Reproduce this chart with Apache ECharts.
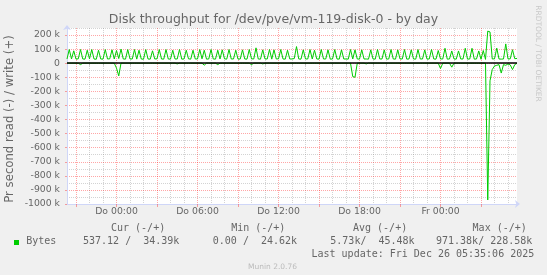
<!DOCTYPE html>
<html><head><meta charset="utf-8">
<script src="https://cdn.jsdelivr.net/npm/echarts@6/dist/echarts.min.js"></script>
<style>html,body{margin:0;padding:0;background:#f0f0f0}#c{width:547px;height:275px}</style>
</head><body><div id="c"></div>
<script>
// time axis in hours relative to Thu (Do) 00:00; samples every 10 minutes from Wed 20:20
const T0 = -11/3;
const STEP = 1/6;
const X_MIN = -11/3;
const X_MAX = 29 + 2/3;

// write (+) bytes/s, in k
const writeK = [
30,97,30,88,29,31,97,30,29,92,31,97,30,28,92,30,29,97,30,31,
95,30,90,33,100,30,29,97,30,30,97,29,92,30,28,97,30,29,88,30,
31,97,30,29,97,30,29,92,30,30,97,29,30,92,31,29,92,30,30,97,
31,92,29,30,97,30,29,92,30,95,31,29,97,30,30,92,29,30,95,30,
29,97,31,30,109,30,29,95,30,30,97,29,95,30,31,97,30,29,92,30,
30,33,118,30,29,95,30,30,97,30,92,30,29,97,30,30,95,29,30,97,
30,29,95,30,30,29,97,30,95,30,29,95,30,30,29,95,30,29,97,30,
30,95,29,30,97,30,29,95,30,30,97,29,30,95,30,29,97,30,30,95,
29,30,97,30,29,90,30,30,106,29,30,87,30,29,87,30,30,106,29,30,
106,29,30,87,28,90,27,228,222,30,31,107,30,29,30,137,30,31,96,32,
34
];
// read (-) bytes/s, in k
const readK = [
0,0,0,0,0,0,-10,0,0,0,0,0,0,0,0,0,0,0,0,0,
0,0,-35,-90,0,0,0,0,0,0,0,0,0,0,0,0,0,0,0,0,
0,0,0,0,0,0,0,0,0,-5,0,0,0,0,0,0,0,0,0,0,
0,-14,0,0,0,0,0,-10,0,0,0,0,0,0,0,0,0,0,0,0,
0,0,-10,0,0,0,0,-5,0,0,0,0,0,0,0,0,0,0,0,0,
0,0,0,0,0,0,0,0,0,0,0,0,0,0,0,0,0,0,0,0,
0,0,0,0,0,0,0,-95,-100,0,0,0,0,-5,0,0,0,0,0,0,
0,0,0,0,0,0,0,0,0,0,0,0,0,0,0,0,0,0,0,0,
0,0,0,0,0,0,-38,0,0,0,0,-28,0,0,0,0,0,0,0,0,
0,0,0,0,0,0,0,-971,-125,-45,-20,-15,-10,-70,-10,-15,-5,-12,-45,-10,
-1
];

const xMajorHours = [-3,0,3,6,9,12,15,18,21,24,27];
const xMinorHours = [-2,-1,1,2,4,5,7,8,10,11,13,14,16,17,19,20,22,23,25,26,28,29];
const xLabelHours = [0,6,12,18,24];
const xTickLabels = ['Do 00:00','Do 06:00','Do 12:00','Do 18:00','Fr 00:00'];

const yMajorValues = [200000,100000,0,-100000,-200000,-300000,-400000,-500000,-600000,-700000,-800000,-900000,-1000000];
const yTickLabels = ['200 k','100 k','0','-100 k','-200 k','-300 k','-400 k','-500 k','-600 k','-700 k','-800 k','-900 k','-1000 k'];
const yMinorValues = [250000,150000,50000,-50000,-150000,-250000,-350000,-450000,-550000,-650000,-750000,-850000,-950000];

const titleText = 'Disk throughput for /dev/pve/vm-119-disk-0 - by day';
const yAxisTitle = 'Pr second read (-) / write (+)';
const legendHeaders = ['Cur (-/+)','Min (-/+)','Avg (-/+)','Max (-/+)'];
const legendName = 'Bytes';
const legendValues = ['537.12 /  34.39k','0.00 /  24.62k','5.73k/  45.48k','971.38k/ 228.58k'];
const lastUpdate = 'Last update: Fri Dec 26 05:35:06 2025';
const watermark = 'Munin 2.0.76';
const sideText = 'RRDTOOL / TOBI OETIKER';

const GREEN = '#00cc00';
const MGRID = 'rgba(255,0,0,0.35)';
const GRID = 'rgba(128,128,128,0.35)';
const AXIS = '#CFD6F8';
const FONT = '#666666';

const writeData = writeK.map((v,i)=>[T0 + i*STEP, v*1000]);
const readData = readK.map((v,i)=>[T0 + i*STEP, v*1000]);

const chart = echarts.init(document.getElementById('c'), null, {renderer:'canvas', width:547, height:275});

function txt(text, x, y, font, fill, align, vAlign, rotation) {
  return {type:'text', x:x, y:y, rotation: rotation||0, silent:true,
    style:{text:text, font:font, fill:fill, align:align, textAlign:align, verticalAlign:vAlign, textVerticalAlign:vAlign}};
}
const mono = '10px "DejaVu Sans Mono"';
const headerX = [111, 231.2, 353, 472.6];
const valueX = [83, 212.8, 330.3, 436];

const graphics = [
  txt(titleText, 273.5, 20, '12.5px "DejaVu Sans"', FONT, 'center', 'middle'),
  txt(yAxisTitle, 10, 119, '11.7px "DejaVu Sans"', FONT, 'center', 'middle', Math.PI/2),
  txt(sideText, 537.5, 53.5, '7.5px "DejaVu Sans"', '#c8c8c8', 'center', 'middle', -Math.PI/2),
  {type:'rect', shape:{x:14, y:240, width:5, height:5}, style:{fill:GREEN}, silent:true},
  txt(legendName, 26.2, 241.5, mono, FONT, 'left', 'middle'),
  txt(lastUpdate, 311.5, 254.3, mono, FONT, 'left', 'middle'),
  txt(watermark, 272.5, 267, '7.5px "DejaVu Sans"', '#bbbbbb', 'center', 'middle')
];
legendHeaders.forEach((h,i)=>graphics.push(txt(h, headerX[i], 228.5, mono, FONT, 'left', 'middle')));
legendValues.forEach((h,i)=>graphics.push(txt(h, valueX[i], 241.5, mono, FONT, 'left', 'middle')));

const option = {
  animation:false,
  backgroundColor:'#f0f0f0',
  textStyle:{fontFamily:'DejaVu Sans'},
  grid:{left:67, top:28, width:450, height:176, show:true, backgroundColor:'#ffffff', borderWidth:0},
  xAxis:[
    {type:'value', min:X_MIN, max:X_MAX, position:'bottom', z:3,
     axisLine:{show:true, onZero:false, lineStyle:{color:AXIS, width:1}, symbol:['none','arrow'], symbolSize:[6,5], symbolOffset:[0,3]},
     axisTick:{show:true, customValues:xMajorHours, length:3, lineStyle:{color:MGRID}},
     axisLabel:{show:true, customValues:xLabelHours, formatter:v=>xTickLabels[xLabelHours.indexOf(v)], color:FONT, fontSize:9.3, fontFamily:'DejaVu Sans', margin:3},
     splitLine:{show:true, lineStyle:{color:MGRID, width:1, type:[1,1]}}},
    {type:'value', min:X_MIN, max:X_MAX, position:'bottom', z:2,
     axisLine:{show:false},
     axisTick:{show:true, customValues:xMinorHours, length:3, lineStyle:{color:GRID}},
     axisLabel:{show:false},
     splitLine:{show:true, lineStyle:{color:GRID, width:1, type:[1,1]}}}
  ],
  yAxis:[
    {type:'value', min:-1000000, max:250000, position:'left', z:3,
     axisLine:{show:true, onZero:false, lineStyle:{color:AXIS, width:1}, symbol:['none','arrow'], symbolSize:[6,5], symbolOffset:[0,3]},
     axisTick:{show:true, customValues:yMajorValues, length:2, lineStyle:{color:MGRID}},
     axisLabel:{show:true, customValues:yMajorValues, formatter:v=>yTickLabels[yMajorValues.indexOf(v)], color:FONT, fontSize:9.3, fontFamily:'DejaVu Sans', margin:7},
     splitLine:{show:true, lineStyle:{color:MGRID, width:1, type:[1,1]}}},
    {type:'value', min:-1000000, max:250000, position:'left', z:2,
     axisLine:{show:false},
     axisTick:{show:false, customValues:yMinorValues},
     axisLabel:{show:false},
     splitLine:{show:true, lineStyle:{color:GRID, width:1, type:[1,1]}}}
  ],
  series:[
    {type:'line', name:'write', xAxisIndex:0, yAxisIndex:0, data:writeData, symbol:'none', showSymbol:false,
     lineStyle:{color:GREEN, width:1}, itemStyle:{color:GREEN}, z:3},
    {type:'line', name:'read', xAxisIndex:0, yAxisIndex:0, data:readData, symbol:'none', showSymbol:false,
     lineStyle:{color:GREEN, width:1}, itemStyle:{color:GREEN}, z:3,
     markLine:{silent:true, symbol:'none', z:5, label:{show:false}, lineStyle:{color:'#000000', width:1.6, type:'solid'}, data:[{yAxis:0}]}}
  ],
  graphic:graphics
};
chart.setOption(option);
</script></body></html>
